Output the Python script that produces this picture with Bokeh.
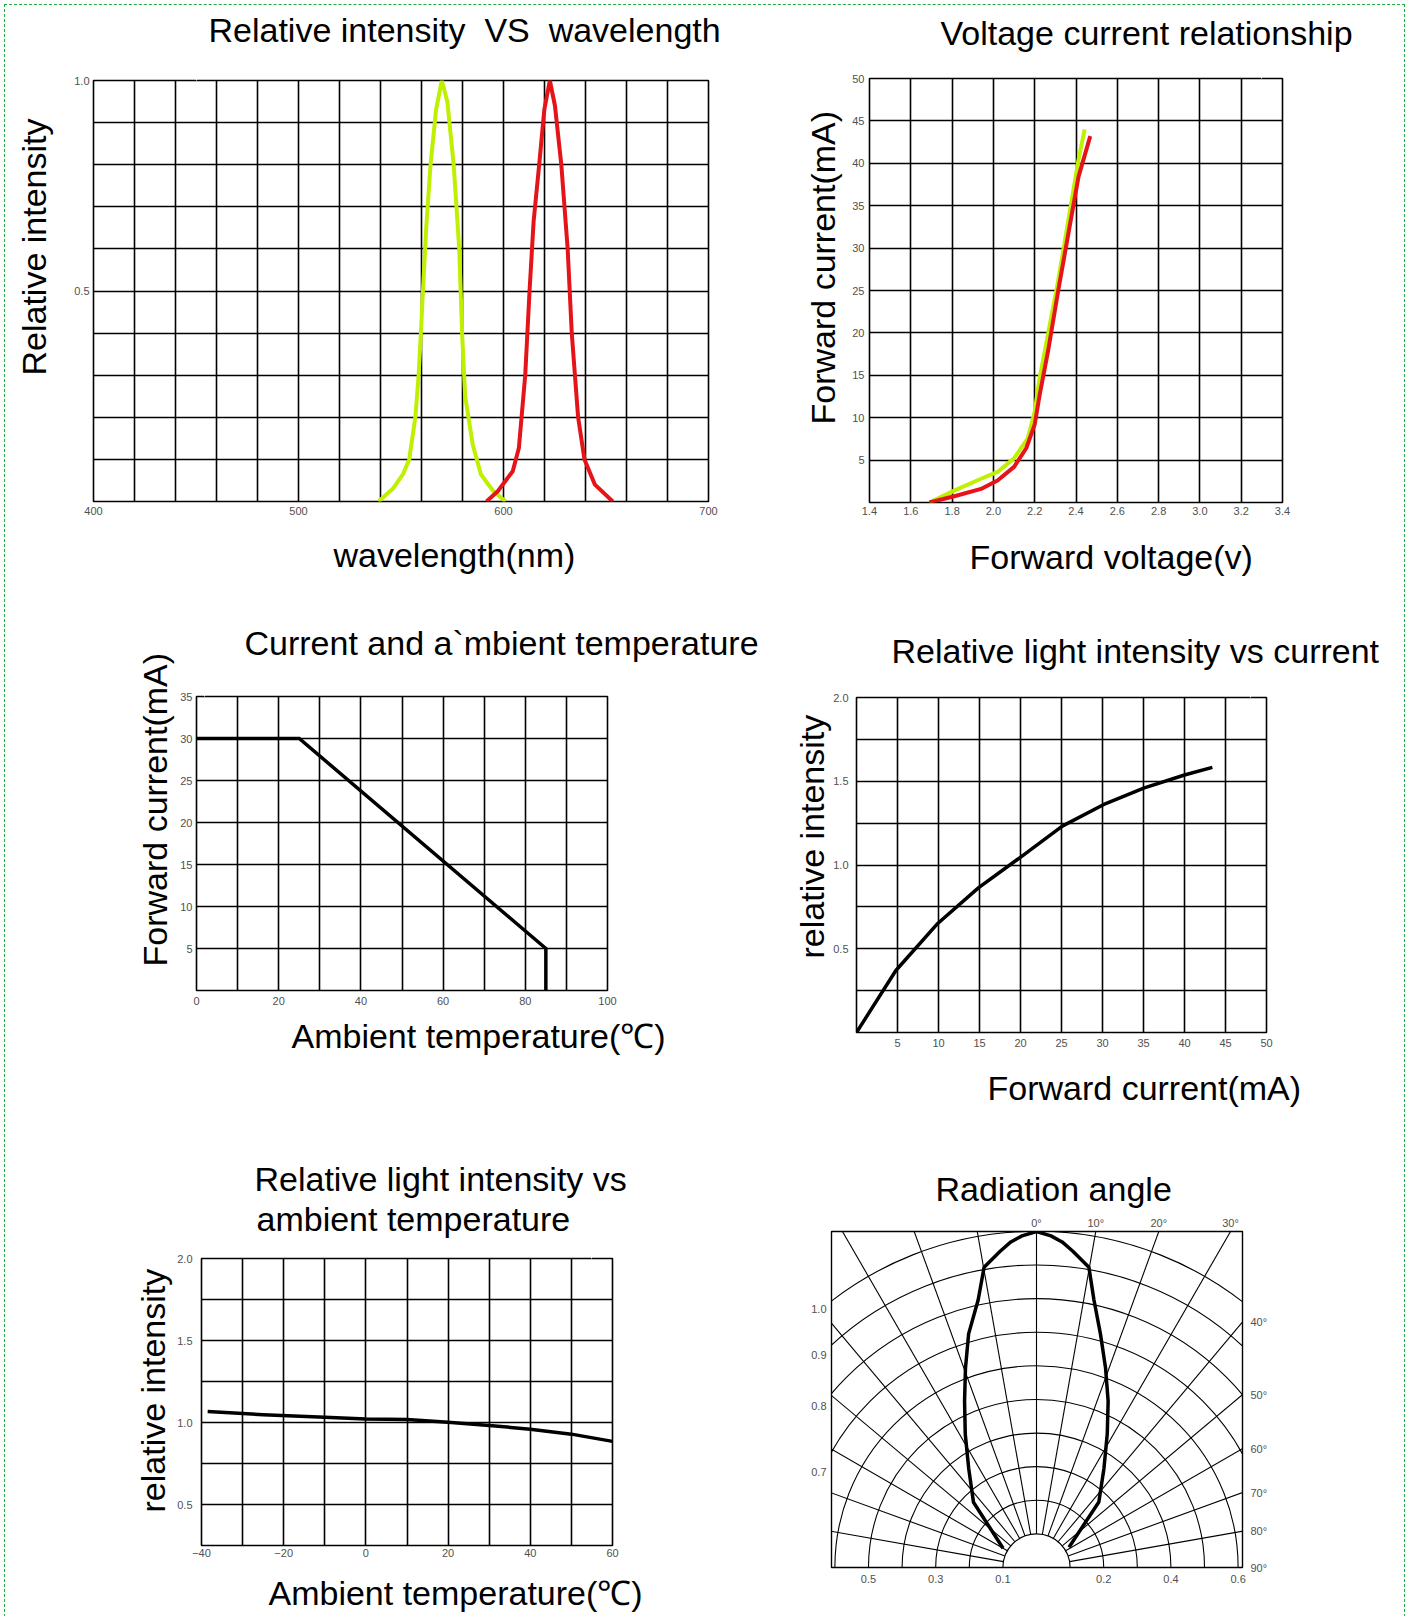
import numpy as np
from bokeh.plotting import figure
from bokeh.models import (Range1d, FixedTicker, LinearAxis, PrintfTickFormatter,
                          CustomJSTickFormatter, Title)
from bokeh.layouts import row, column
from bokeh.embed import file_html
from bokeh.resources import INLINE

# ---------------- data ----------------
# 1) Relative intensity vs wavelength
wl_green = [539, 546, 551, 554, 557, 558.6, 559.7, 560.7, 562.3, 564.4, 567.1, 569.9,
            572.6, 575.7, 578.4, 579.8, 581.3, 585, 589, 595, 601]
ri_green = [0, 0.03, 0.065, 0.1, 0.2, 0.3, 0.4, 0.5, 0.65, 0.8, 0.93, 1.0,
            0.95, 0.8, 0.6, 0.4, 0.25, 0.135, 0.064, 0.025, 0]
wl_red = [591.7, 597.3, 604.5, 607.5, 610.6, 612.7, 614.7, 617.4, 619.9, 622.6,
          625.1, 628.2, 631.3, 633.3, 636.4, 639.5, 644.6, 653.3]
ri_red = [0, 0.025, 0.072, 0.127, 0.3, 0.5, 0.666, 0.8, 0.93, 1.0,
          0.94, 0.8, 0.6, 0.4, 0.2, 0.1, 0.04, 0]
wl_ticks = [400, 500, 600, 700]
wl_grid = [400, 420, 440, 460, 480, 500, 520, 540, 560, 580, 600, 620, 640, 660, 680, 700]
ri1_ticks = [0.5, 1.0]
ri1_grid = [0, 0.1, 0.2, 0.3, 0.4, 0.5, 0.6, 0.7, 0.8, 0.9, 1.0]

# 2) Voltage current relationship
vf_green = [1.69, 1.81, 1.94, 2.02, 2.10, 2.167, 2.20, 2.224, 2.265, 2.314, 2.363, 2.412, 2.442]
if_green = [0, 1.4, 2.8, 3.6, 5.2, 7.6, 10.7, 14.7, 19.9, 26.2, 33.3, 40.4, 44.0]
vf_red = [1.69, 1.82, 1.94, 2.02, 2.10, 2.159, 2.20, 2.224, 2.265, 2.314, 2.363, 2.412, 2.469]
if_red = [0, 0.8, 1.6, 2.6, 4.2, 6.4, 9.2, 12.7, 17.9, 25.0, 31.7, 38.4, 43.2]
vf_ticks = [1.4, 1.6, 1.8, 2.0, 2.2, 2.4, 2.6, 2.8, 3.0, 3.2, 3.4]
if2_ticks = [5, 10, 15, 20, 25, 30, 35, 40, 45, 50]
if2_grid = [0, 5, 10, 15, 20, 25, 30, 35, 40, 45, 50]

# 3) Current and ambient temperature (derating)
ta_derate = [0, 25, 85, 85]
if_derate = [30, 30, 5, 0]
ta3_ticks = [0, 20, 40, 60, 80, 100]
ta3_grid = [0, 10, 20, 30, 40, 50, 60, 70, 80, 90, 100]
if3_ticks = [5, 10, 15, 20, 25, 30, 35]
if3_grid = [0, 5, 10, 15, 20, 25, 30, 35]

# 4) Relative light intensity vs current
if_curve = [0, 4.8, 9.8, 14.9, 19.9, 25.1, 30.1, 35.1, 40.1, 43.4]
ri_curve = [0, 0.37, 0.646, 0.865, 1.043, 1.232, 1.36, 1.46, 1.539, 1.583]
if4_ticks = [5, 10, 15, 20, 25, 30, 35, 40, 45, 50]
if4_grid = [0, 5, 10, 15, 20, 25, 30, 35, 40, 45, 50]
ri4_ticks = [0.5, 1.0, 1.5, 2.0]
ri4_grid = [0, 0.25, 0.5, 0.75, 1.0, 1.25, 1.5, 1.75, 2.0]

# 5) Relative light intensity vs ambient temperature
ta_curve = [-38.5, -25, -10, 0, 10, 20, 30, 40, 50, 60]
ri_temp = [1.067, 1.047, 1.032, 1.022, 1.018, 1.002, 0.982, 0.959, 0.929, 0.885]
ta5_ticks = [-40, -20, 0, 20, 40, 60]
ta5_grid = [-40, -30, -20, -10, 0, 10, 20, 30, 40, 50, 60]
ri5_ticks = [0.5, 1.0, 1.5, 2.0]
ri5_grid = [0.25, 0.5, 0.75, 1.0, 1.25, 1.5, 1.75, 2.0]

# 6) Radiation angle (polar)
beam_angle = [-60, -44, -34.4, -28.1, -23.4, -19.6, -16.2, -12.3, -9.9, -6.5, -4.5, -2.5, 0,
              2.5, 4.5, 6.5, 9.9, 12.1, 15.3, 19.1, 23.3, 27.9, 34.3, 43.6, 58]
beam_intensity = [0.115, 0.27, 0.357, 0.45, 0.539, 0.63, 0.724, 0.815, 0.907, 0.948, 0.972, 0.988,
                  1.0, 0.988, 0.972, 0.948, 0.907, 0.815, 0.721, 0.628, 0.539, 0.45, 0.356,
                  0.269, 0.114]
polar_rings = [0.1, 0.2, 0.3, 0.4, 0.5, 0.6, 0.7, 0.8, 0.9, 1.0]
polar_spokes = [-90, -80, -70, -60, -50, -40, -30, -20, -10, 0, 10, 20, 30, 40, 50, 60, 70, 80, 90]
top_angle_labels = [0, 10, 20, 30]
side_angle_labels = [40, 50, 60, 70, 80, 90]
left_ring_labels = [1.0, 0.9, 0.8, 0.7]
bottom_ring_ticks = [-0.5, -0.3, -0.1, 0.2, 0.4, 0.6]

# ---------------- styling helpers ----------------
FONT = "Liberation Sans"
BIG = "34px"
SMALL = "11px"
TICK_COLOR = "#505050"
GREEN = "#bef000"
RED = "#e41418"
EMPTY = CustomJSTickFormatter(code="return ''")


def make_fig(xr, yr, fw, fh, bl, br, bt, bb):
    p = figure(frame_width=fw, frame_height=fh,
               min_border_left=bl, min_border_right=br,
               min_border_top=bt, min_border_bottom=bb,
               x_range=Range1d(*xr), y_range=Range1d(*yr),
               output_backend="svg", toolbar_location=None, title=None)
    p.outline_line_color = "black"
    p.outline_line_width = 1.6
    p.outline_line_alpha = 1.0
    p.background_fill_color = "white"
    p.border_fill_color = "white"
    return p


def style_axis(ax, ticks, standoff, fmt=None):
    ax.ticker = FixedTicker(ticks=ticks)
    ax.major_tick_line_color = None
    ax.minor_tick_line_color = None
    ax.major_tick_out = 0
    ax.major_tick_in = 0
    ax.axis_line_color = None
    ax.major_label_standoff = standoff
    ax.major_label_text_font = FONT
    ax.major_label_text_font_size = SMALL
    ax.major_label_text_color = TICK_COLOR
    if fmt is not None:
        ax.formatter = fmt


def add_spacer(p, side, size, at):
    # an axis with one white (invisible) tick and no label text: it only reserves space
    ax = LinearAxis(ticker=FixedTicker(ticks=[at]), formatter=EMPTY,
                    major_tick_out=size, major_tick_in=0,
                    major_tick_line_color="white", major_tick_line_width=1,
                    minor_tick_line_color=None, axis_line_color=None,
                    major_label_standoff=0, major_label_text_font_size="0px")
    p.add_layout(ax, side)


def add_text_title(p, text, side, offset, valign):
    p.add_layout(Title(text=text, align="left", offset=offset, vertical_align=valign,
                       standoff=0, text_font=FONT, text_font_size=BIG,
                       text_font_style="normal", text_color="black"), side)


def style_grid(p, xg, yg, width=1.6):
    p.xgrid[0].ticker = FixedTicker(ticks=xg)
    p.ygrid[0].ticker = FixedTicker(ticks=yg)
    for g in (p.xgrid[0], p.ygrid[0]):
        g.grid_line_color = "black"
        g.grid_line_width = width
        g.grid_line_alpha = 1.0


# ---------------- chart 1 ----------------
p1 = make_fig((400, 700), (0, 1.0), 615, 421, 88, 60, 75, 79)
style_grid(p1, wl_grid, ri1_grid)
style_axis(p1.xaxis[0], wl_ticks, 5)
style_axis(p1.yaxis[0], ri1_ticks, 4, PrintfTickFormatter(format="%.1f"))
p1.line(wl_green, ri_green, line_color=GREEN, line_width=4, line_join="round")
p1.line(wl_red, ri_red, line_color=RED, line_width=4, line_join="round")
add_spacer(p1, "above", 32, 450)
add_text_title(p1, "Relative intensity \u00a0VS \u00a0wavelength", "above", 115, "bottom")
add_spacer(p1, "below", 18, 450)
add_text_title(p1, "wavelength(nm)", "below", 240, "top")
add_spacer(p1, "left", 19, 0.05)
add_text_title(p1, "Relative intensity", "left", 126, "bottom")

# ---------------- chart 2 ----------------
p2 = make_fig((1.4, 3.4), (0, 50), 413, 424, 101, 122, 73, 78)
style_grid(p2, vf_ticks, if2_grid)
style_axis(p2.xaxis[0], vf_ticks, 4, PrintfTickFormatter(format="%.1f"))
style_axis(p2.yaxis[0], if2_ticks, 5)
p2.line(vf_green, if_green, line_color=GREEN, line_width=4, line_join="round")
p2.line(vf_red, if_red, line_color=RED, line_width=4, line_join="round")
add_spacer(p2, "above", 27, 3.3)
add_text_title(p2, "Voltage current relationship", "above", 71, "bottom")
add_spacer(p2, "below", 20, 1.45)
add_text_title(p2, "Forward voltage(v)", "below", 100, "top")
add_spacer(p2, "left", 8, 2)
add_text_title(p2, "Forward current(mA)", "left", 78, "bottom")

# ---------------- chart 3 ----------------
p3 = make_fig((0, 100), (0, 35), 411, 294, 191, 161, 116, 130)
style_grid(p3, ta3_grid, if3_grid)
style_axis(p3.xaxis[0], ta3_ticks, 6)
style_axis(p3.yaxis[0], if3_ticks, 4)
p3.line(ta_derate, if_derate, line_color="black", line_width=3.5, line_join="miter")
add_spacer(p3, "above", 35, 2)
add_text_title(p3, "Current and a`mbient temperature", "above", 48, "bottom")
add_spacer(p3, "below", 9, 2)
add_text_title(p3, "Ambient temperature(\u2103)", "below", 95, "top")
add_spacer(p3, "left", 4, 1)
add_text_title(p3, "Forward current(mA)", "left", 24, "bottom")

# ---------------- chart 4 ----------------
p4 = make_fig((0, 50), (0, 2.0), 410, 335, 88, 138, 117, 88)
style_grid(p4, if4_grid, ri4_grid)
style_axis(p4.xaxis[0], if4_ticks, 6)
style_axis(p4.yaxis[0], ri4_ticks, 8, PrintfTickFormatter(format="%.1f"))
p4.line(if_curve, ri_curve, line_color="black", line_width=3.5, line_join="round")
add_spacer(p4, "above", 28, 48)
add_text_title(p4, "Relative light intensity vs current", "above", 35, "bottom")
add_spacer(p4, "below", 19, 1)
add_text_title(p4, "Forward current(mA)", "below", 131, "top")
add_text_title(p4, "relative intensity", "left", 74, "bottom")

# ---------------- chart 5 ----------------
p5 = make_fig((-40, 60), (0.25, 2.0), 411, 287, 196, 156, 138, 71)
style_grid(p5, ta5_grid, ri5_grid)
style_axis(p5.xaxis[0], ta5_ticks, 3)
style_axis(p5.yaxis[0], ri5_ticks, 9, PrintfTickFormatter(format="%.1f"))
p5.line(ta_curve, ri_temp, line_color="black", line_width=3.5, line_join="round")
add_spacer(p5, "above", 21, 55)
add_text_title(p5, "ambient temperature", "above", 55, "bottom")
add_text_title(p5, "Relative light intensity vs", "above", 53, "bottom")
add_spacer(p5, "below", 14, -38)
add_text_title(p5, "Ambient temperature(\u2103)", "below", 67, "top")
add_spacer(p5, "left", 3, 0.3)
add_text_title(p5, "relative intensity", "left", 33, "bottom")

# ---------------- chart 6 (polar) ----------------
X_LEFT, X_RIGHT = -0.610, 0.613
LABEL_X = -0.64  # ring values are written where each ring meets the label column
p6 = make_fig((X_LEFT, X_RIGHT), (0, 1.0), 411, 336, 63, 162, 111, 49)
p6.xgrid.visible = False
p6.ygrid.visible = False
p6.outline_line_width = 1.4

rings = np.array(polar_rings)
p6.arc(x=0, y=0, radius=rings, start_angle=0, end_angle=np.pi,
       line_color="black", line_width=1.1)
sp = np.radians(np.array(polar_spokes, dtype=float))
r_in = min(polar_rings)
p6.segment(x0=r_in * np.sin(sp), y0=r_in * np.cos(sp), x1=2 * np.sin(sp), y1=2 * np.cos(sp),
           line_color="black", line_width=1.1)

ba = np.radians(np.array(beam_angle))
bi = np.array(beam_intensity)
p6.line(bi * np.sin(ba), bi * np.cos(ba), line_color="black", line_width=3.5, line_join="round")

# bottom axis: ring values along the baseline
style_axis(p6.xaxis[0], bottom_ring_ticks, 7,
           CustomJSTickFormatter(code="return Math.abs(tick).toFixed(1)"))
# left axis: ring values
left_ticks = sorted(float(np.sqrt(r * r - LABEL_X * LABEL_X)) for r in left_ring_labels)
style_axis(p6.yaxis[0], left_ticks, 5,
           CustomJSTickFormatter(args=dict(edge=LABEL_X),
                                 code="return Math.sqrt(tick*tick + edge*edge).toFixed(1)"))
# top axis: angles where spokes meet the top edge
ax_top = LinearAxis()
p6.add_layout(ax_top, "above")
top_ticks = [float(np.tan(np.radians(a))) for a in top_angle_labels]
style_axis(ax_top, top_ticks, 3,
           CustomJSTickFormatter(code="return Math.round(Math.atan(tick)*180/Math.PI) + '\u00b0'"))
# right axis: angles where spokes meet the right edge
ax_right = LinearAxis()
p6.add_layout(ax_right, "right")
right_ticks = sorted(float(X_RIGHT * np.cos(np.radians(a)) / np.sin(np.radians(a)))
                     for a in side_angle_labels)
style_axis(ax_right, right_ticks, 8,
           CustomJSTickFormatter(args=dict(edge=X_RIGHT),
                                 code="return Math.round(Math.atan2(edge, tick)*180/Math.PI) + '\u00b0'"))
add_spacer(p6, "above", 6, -0.45)
add_text_title(p6, "Radiation angle", "above", 104, "bottom")

# each figure wrapped on its own so rows do not align their frames
layout = column(
    row(column(p1), column(p2), spacing=0),
    row(column(p3), column(p4), spacing=0),
    row(column(p5), column(p6), spacing=0),
    spacing=0,
    margin=(4, 0, 0, 4),
    styles={"border": "1px dashed #22aa44"},
)

open("out.html", "w").write(file_html(layout, INLINE))
